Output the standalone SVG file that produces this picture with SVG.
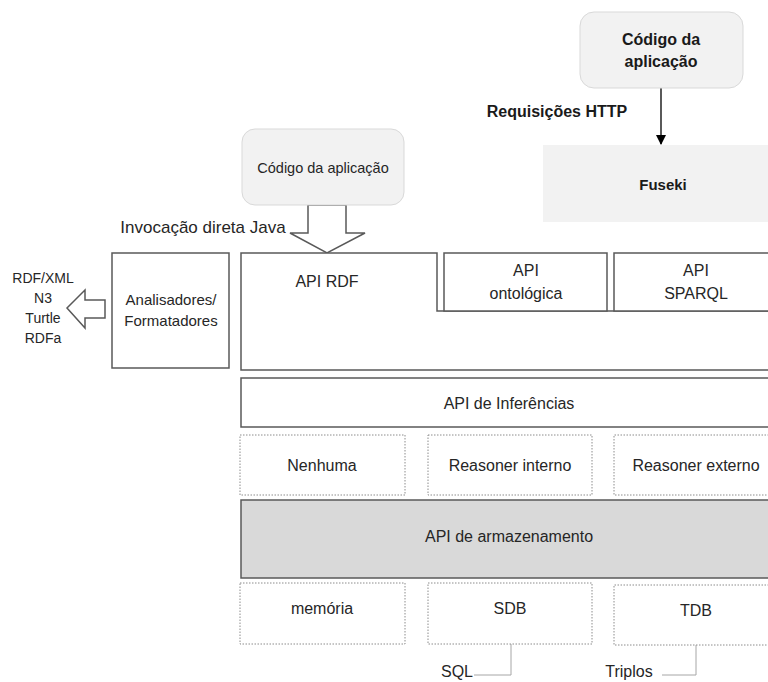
<svg xmlns="http://www.w3.org/2000/svg" width="768" height="682" viewBox="0 0 768 682">
<defs>
<style>
text{font-family:"Liberation Sans",Arial,sans-serif;font-size:16px;fill:#262626;text-anchor:middle}
.b{font-weight:bold;fill:#1a1a1a;font-size:16px}
.solid{fill:#fff;stroke:#595959;stroke-width:1.5}
.dot{fill:#fff;stroke:#8c8c8c;stroke-width:1;stroke-dasharray:1.5 1.5}
.app{fill:#f2f2f2;stroke:#d9d9d9;stroke-width:1}
.blk{fill:#fff;stroke:#595959;stroke-width:1.5}
.thin{fill:none;stroke:#a6a6a6;stroke-width:1}
</style>
<marker id="ah" markerWidth="10" markerHeight="10" refX="9" refY="5" orient="auto" markerUnits="userSpaceOnUse">
<path d="M0,0 L10,5 L0,10 Z" fill="#000"/>
</marker>
</defs>
<rect width="768" height="682" fill="#fff"/>

<g id="connectors">
<line x1="661" y1="88" x2="661" y2="144" stroke="#000" stroke-width="1.3" marker-end="url(#ah)"/>
<polygon class="blk" points="308,205 346,205 346,233 365,233 327,253 290,233 308,233"/>
<polygon class="blk" points="105,300 105,318 85,318 85,328 67,308 85,290 85,300"/>
<polyline class="thin" points="511,644 511,675 474,675"/>
<polyline class="thin" points="696,645 696,675 662,675"/>
</g>

<g id="app-bold">
<rect class="app" x="580" y="12" width="163" height="76" rx="14"/>
<text class="b" x="661" y="45">Código da</text>
<text class="b" x="661" y="67">aplicação</text>
</g>
<g id="fuseki">
<rect x="543" y="145" width="225" height="77" fill="#f2f2f2"/>
<text class="b" x="663" y="190" style="font-size:15px">Fuseki</text>
</g>
<g id="label-http">
<text class="b" x="557" y="117">Requisições HTTP</text>
</g>
<g id="app-normal">
<rect class="app" x="242" y="129" width="162" height="76" rx="13"/>
<text x="323" y="173" style="font-size:14.5px">Código da aplicação</text>
</g>
<g id="label-java">
<text x="203" y="233" style="font-size:17px">Invocação direta Java</text>
</g>
<g id="formats">
<text x="43" y="283" style="font-size:14px">RDF/XML</text>
<text x="43" y="303" style="font-size:14px">N3</text>
<text x="43" y="323" style="font-size:14px">Turtle</text>
<text x="43" y="343" style="font-size:14px">RDFa</text>
</g>
<g id="analisadores">
<rect class="solid" x="112" y="253" width="117" height="115"/>
<text x="171" y="305" style="font-size:15px">Analisadores/</text>
<text x="171" y="326" style="font-size:15px">Formatadores</text>
</g>
<g id="api-rdf">
<path class="solid" d="M769,370 L241,370 L241,253 L437,253 L437,311 L769,311"/>
<text x="327" y="287">API RDF</text>
</g>
<g id="api-ontologica">
<path class="solid" d="M444,311 L444,253 L607,253 L607,311 Z"/>
<text x="526" y="276">API</text>
<text x="526" y="299">ontológica</text>
</g>
<g id="api-sparql">
<path class="solid" d="M769,253 L614,253 L614,311 L769,311"/>
<text x="696" y="276">API</text>
<text x="696" y="299">SPARQL</text>
</g>
<g id="api-inferencias">
<path class="solid" d="M769,378 L241,378 L241,427 L769,427"/>
<text x="509" y="409">API de Inferências</text>
</g>
<g id="nenhuma">
<rect class="dot" x="240" y="435" width="165" height="60"/>
<text x="322" y="471">Nenhuma</text>
</g>
<g id="reasoner-interno">
<rect class="dot" x="428" y="435" width="164" height="60"/>
<text x="510" y="471">Reasoner interno</text>
</g>
<g id="reasoner-externo">
<path class="dot" d="M769,435 L614,435 L614,495 L769,495"/>
<text x="696" y="471">Reasoner externo</text>
</g>
<g id="api-armazenamento">
<path d="M769,500 L241,500 L241,578 L769,578" fill="#d9d9d9" stroke="#595959" stroke-width="1.5"/>
<text x="509" y="542">API de armazenamento</text>
</g>
<g id="memoria">
<rect class="dot" x="240" y="583" width="165" height="61"/>
<text x="322" y="614">memória</text>
</g>
<g id="sdb">
<rect class="dot" x="428" y="583" width="164" height="61"/>
<text x="510" y="614">SDB</text>
</g>
<g id="tdb">
<path class="dot" d="M769,585 L614,585 L614,645 L769,645"/>
<text x="696" y="616">TDB</text>
</g>
<g id="labels-bottom">
<text x="457" y="677">SQL</text>
<text x="629" y="677">Triplos</text>
</g>
</svg>
